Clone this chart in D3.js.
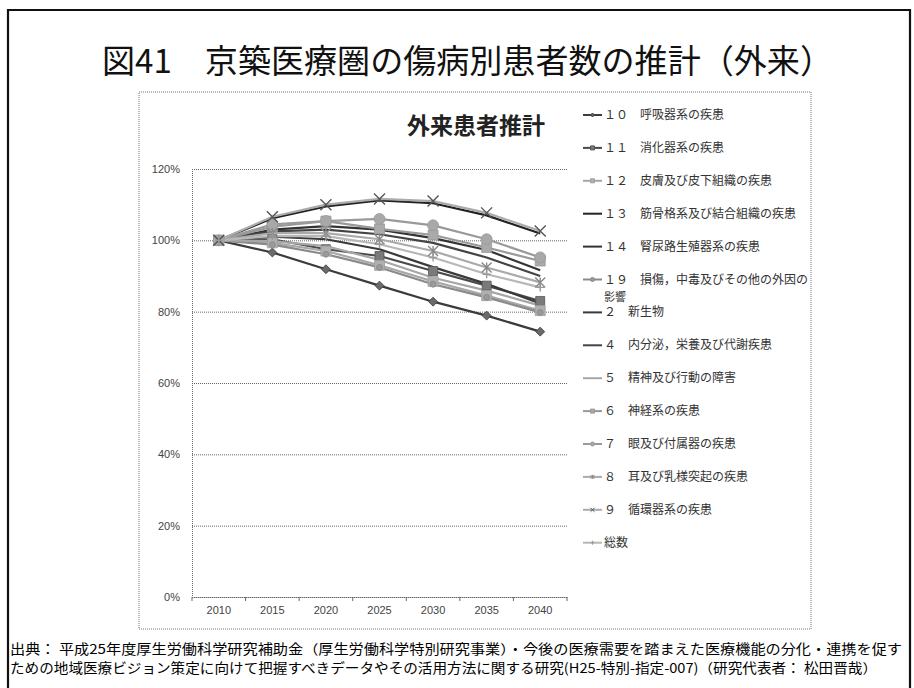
<!DOCTYPE html>
<html><head><meta charset="utf-8">
<script src="https://cdn.jsdelivr.net/npm/d3@7"></script>
<style>
body{margin:0;background:#fff}
svg{display:block}
text{font-family:"Noto Sans CJK JP","Noto Sans",sans-serif}
</style>
</head><body>
<svg id="c" width="914" height="688"></svg>
<script>
// ---------- data ----------
const years = ["2010","2015","2020","2025","2030","2035","2040"];
const yTicks = [0,20,40,60,80,100,120];
const seriesNames = [
  "１０　呼吸器系の疾患",
  "１１　消化器系の疾患",
  "１２　皮膚及び皮下組織の疾患",
  "１３　筋骨格系及び結合組織の疾患",
  "１４　腎尿路生殖器系の疾患",
  "１９　損傷，中毒及びその他の外因の影響",
  "２　新生物",
  "４　内分泌，栄養及び代謝疾患",
  "５　精神及び行動の障害",
  "６　神経系の疾患",
  "７　眼及び付属器の疾患",
  "８　耳及び乳様突起の疾患",
  "９　循環器系の疾患",
  "総数"
];
const v10 = [100,96.6,91.9,87.3,82.8,78.9,74.4];
const v11 = [100,100.3,97.5,95.6,91.4,87.3,83.0];
const v12 = [100,99.3,97.0,93.0,88.5,84.5,80.3];
const v13 = [100,106.2,109.5,111.2,110.4,107.0,101.9];
const v14 = [100,103.0,104.0,103.0,100.6,97.3,91.6];
const v19 = [100,98.8,96.1,92.4,87.7,84.0,79.8];
const v2  = [100,101.0,100.3,97.5,92.5,87.8,82.3];
const v4  = [100,102.5,103.0,101.7,99.3,95.2,90.0];
const v5  = [100,99.8,98.4,94.5,89.5,85.9,81.7];
const v6  = [100,103.8,105.4,103.2,101.5,98.0,94.2];
const v7  = [100,104.5,105.4,106.0,104.2,100.3,95.2];
const v8  = [100,102.0,102.0,100.3,97.0,92.4,88.2];
const v9  = [100,106.6,110.0,111.6,111.0,107.7,102.6];
const vTotal = [100,101.2,101.2,98.9,95.2,90.5,86.8];
const seriesValues = [v10,v11,v12,v13,v14,v19,v2,v4,v5,v6,v7,v8,v9,vTotal];
const titleText = "図41　京築医療圏の傷病別患者数の推計（外来）";
const chartTitle = "外来患者推計";
const footer1 = "出典： 平成25年度厚生労働科学研究補助金（厚生労働科学特別研究事業）・今後の医療需要を踏まえた医療機能の分化・連携を促す";
const footer2 = "ための地域医療ビジョン策定に向けて把握すべきデータやその活用方法に関する研究(H25-特別-指定-007)（研究代表者： 松田晋哉）";

// ---------- styles ----------
const styles = [
  {line:"#3c3c3c", marker:"diamond", mf:"#6a6a6a", ms:"#3a3a3a", size:9},
  {line:"#4a4a4a", marker:"square",  mf:"#7a7a7a", ms:"#555", size:9},
  {line:"#a8a8a8", marker:"square",  mf:"#b0b0b0", ms:"#a0a0a0", size:10},
  {line:"#222",    marker:null},
  {line:"#333",    marker:null},
  {line:"#8a8a8a", marker:"circle",  mf:"#9a9a9a", ms:"#888", size:6},
  {line:"#3a3a3a", marker:null},
  {line:"#444",    marker:null},
  {line:"#a6a6a6", marker:null},
  {line:"#999",    marker:"square",  mf:"#aaa", ms:"#999", size:10},
  {line:"#9a9a9a", marker:"circle",  mf:"#a8a8a8", ms:"#999", size:11},
  {line:"#aaa",    marker:"star",    mf:"none", ms:"#888", size:10},
  {line:"#ababab", marker:"x",       mf:"none", ms:"#555", size:11},
  {line:"#b8b8b8", marker:"plus",    mf:"none", ms:"#999", size:8}
];

function markerPath(type, s){
  const h = s/2;
  switch(type){
    case "diamond": return `M0,${-h}L${h},0L0,${h}L${-h},0Z`;
    case "square": return `M${-h},${-h}H${h}V${h}H${-h}Z`;
    case "circle": return d3.symbol(d3.symbolCircle, Math.PI*h*h)();
    case "x": return `M${-h},${-h}L${h},${h}M${-h},${h}L${h},${-h}`;
    case "plus": return `M${-h},0H${h}M0,${-h}V${h}`;
    case "star": return `M${-h},${-h}L${h},${h}M${-h},${h}L${h},${-h}M0,${-h}V${h}`;
  }
  return "";
}

const svg = d3.select("#c");

// outer frame
svg.append("path").attr("d","M8,700V10H910V700").attr("fill","none")
  .attr("stroke","#111").attr("stroke-width",2.2);

// main title
svg.append("text").attr("x",102).attr("y",73).attr("font-size",33)
  .attr("textLength",731).attr("lengthAdjust","spacingAndGlyphs")
  .attr("fill","#111").text(titleText);

// chart box
svg.append("rect").attr("x",139).attr("y",92).attr("width",672).attr("height",537)
  .attr("fill","none").attr("stroke","#777").attr("stroke-width",1).attr("stroke-dasharray","1,1");

// chart title
svg.append("text").attr("x",476).attr("y",134).attr("text-anchor","middle")
  .attr("font-size",23).attr("font-weight","bold").attr("fill","#222").text(chartTitle);

// scales
const x = d3.scaleBand().domain(years).range([192,567]);
const y = d3.scaleLinear().domain([0,120]).range([597,169]);
const xc = d => x(d) + x.bandwidth()/2;

// gridlines + y axis
const gy = svg.append("g").attr("transform","translate(192,0)")
  .call(d3.axisLeft(y).tickValues(yTicks).tickFormat(d=>d+"%").tickSize(-375).tickPadding(12));
gy.select(".domain").attr("stroke","#666").attr("stroke-dasharray","1,1");
gy.selectAll(".tick line").attr("stroke","#666").attr("stroke-dasharray","1,1");
gy.selectAll(".tick text").attr("font-size",11).attr("fill","#444")
  .style("font-family","'Liberation Sans','DejaVu Sans',sans-serif");

// x axis
const gx = svg.append("g").attr("transform","translate(0,597)")
  .call(d3.axisBottom(x).tickSize(0).tickPadding(9));
gx.select(".domain").attr("stroke","#666").attr("stroke-dasharray","1,1");
gx.selectAll(".tick text").attr("font-size",11).attr("fill","#444")
  .style("font-family","'Liberation Sans','DejaVu Sans',sans-serif");
gx.selectAll(".bt").data(years.concat(["__end"])).enter().append("line")
  .attr("x1",d=> d==="__end" ? x.range()[1] : x(d))
  .attr("x2",d=> d==="__end" ? x.range()[1] : x(d))
  .attr("y1",0).attr("y2",4).attr("stroke","#666");

// lines
const line = d3.line().x((d,i)=>xc(years[i])).y(d=>y(d));
const plot = svg.append("g");
seriesValues.forEach((vals,si)=>{
  const st = styles[si];
  plot.append("path").datum(vals).attr("d",line).attr("fill","none")
    .attr("stroke",st.line).attr("stroke-width",2.2).attr("stroke-linejoin","round");
});
seriesValues.forEach((vals,si)=>{
  const st = styles[si];
  if(!st.marker) return;
  plot.selectAll(null).data(vals).enter().append("path")
    .attr("transform",(d,i)=>`translate(${xc(years[i])},${y(d)})`)
    .attr("d",markerPath(st.marker, st.size))
    .attr("fill",st.mf).attr("stroke",st.ms)
    .attr("stroke-width", (st.marker==="x"||st.marker==="plus"||st.marker==="star")?1.4:0.8);
});

// legend
const lg = svg.append("g");
seriesNames.forEach((name,i)=>{
  const st = styles[i];
  const cy = 115 + i*32.9;
  lg.append("line").attr("x1",583).attr("x2",602).attr("y1",cy).attr("y2",cy)
    .attr("stroke",st.line).attr("stroke-width",2);
  if(st.marker){
    lg.append("path").attr("transform",`translate(592.5,${cy})`)
      .attr("d",markerPath(st.marker, 4)).attr("fill",st.mf==="none"?"none":st.mf)
      .attr("stroke",st.ms).attr("stroke-width",1);
  }
  const t = lg.append("text").attr("x",604).attr("y",cy+4).attr("font-size",12).attr("fill","#333");
  if(name.length > 17){
    t.text(name.slice(0,17));
    lg.append("text").attr("x",604).attr("y",cy+21).attr("font-size",11).attr("fill","#333").text(name.slice(17));
  } else t.text(name);
});

// footer
svg.append("text").attr("x",10).attr("y",654).attr("font-size",13.5).attr("fill","#000")
  .attr("textLength",892).attr("lengthAdjust","spacingAndGlyphs").text(footer1);
svg.append("text").attr("x",10).attr("y",673).attr("font-size",13.5).attr("fill","#000")
  .attr("textLength",867).attr("lengthAdjust","spacingAndGlyphs").text(footer2);
</script>
</body></html>
